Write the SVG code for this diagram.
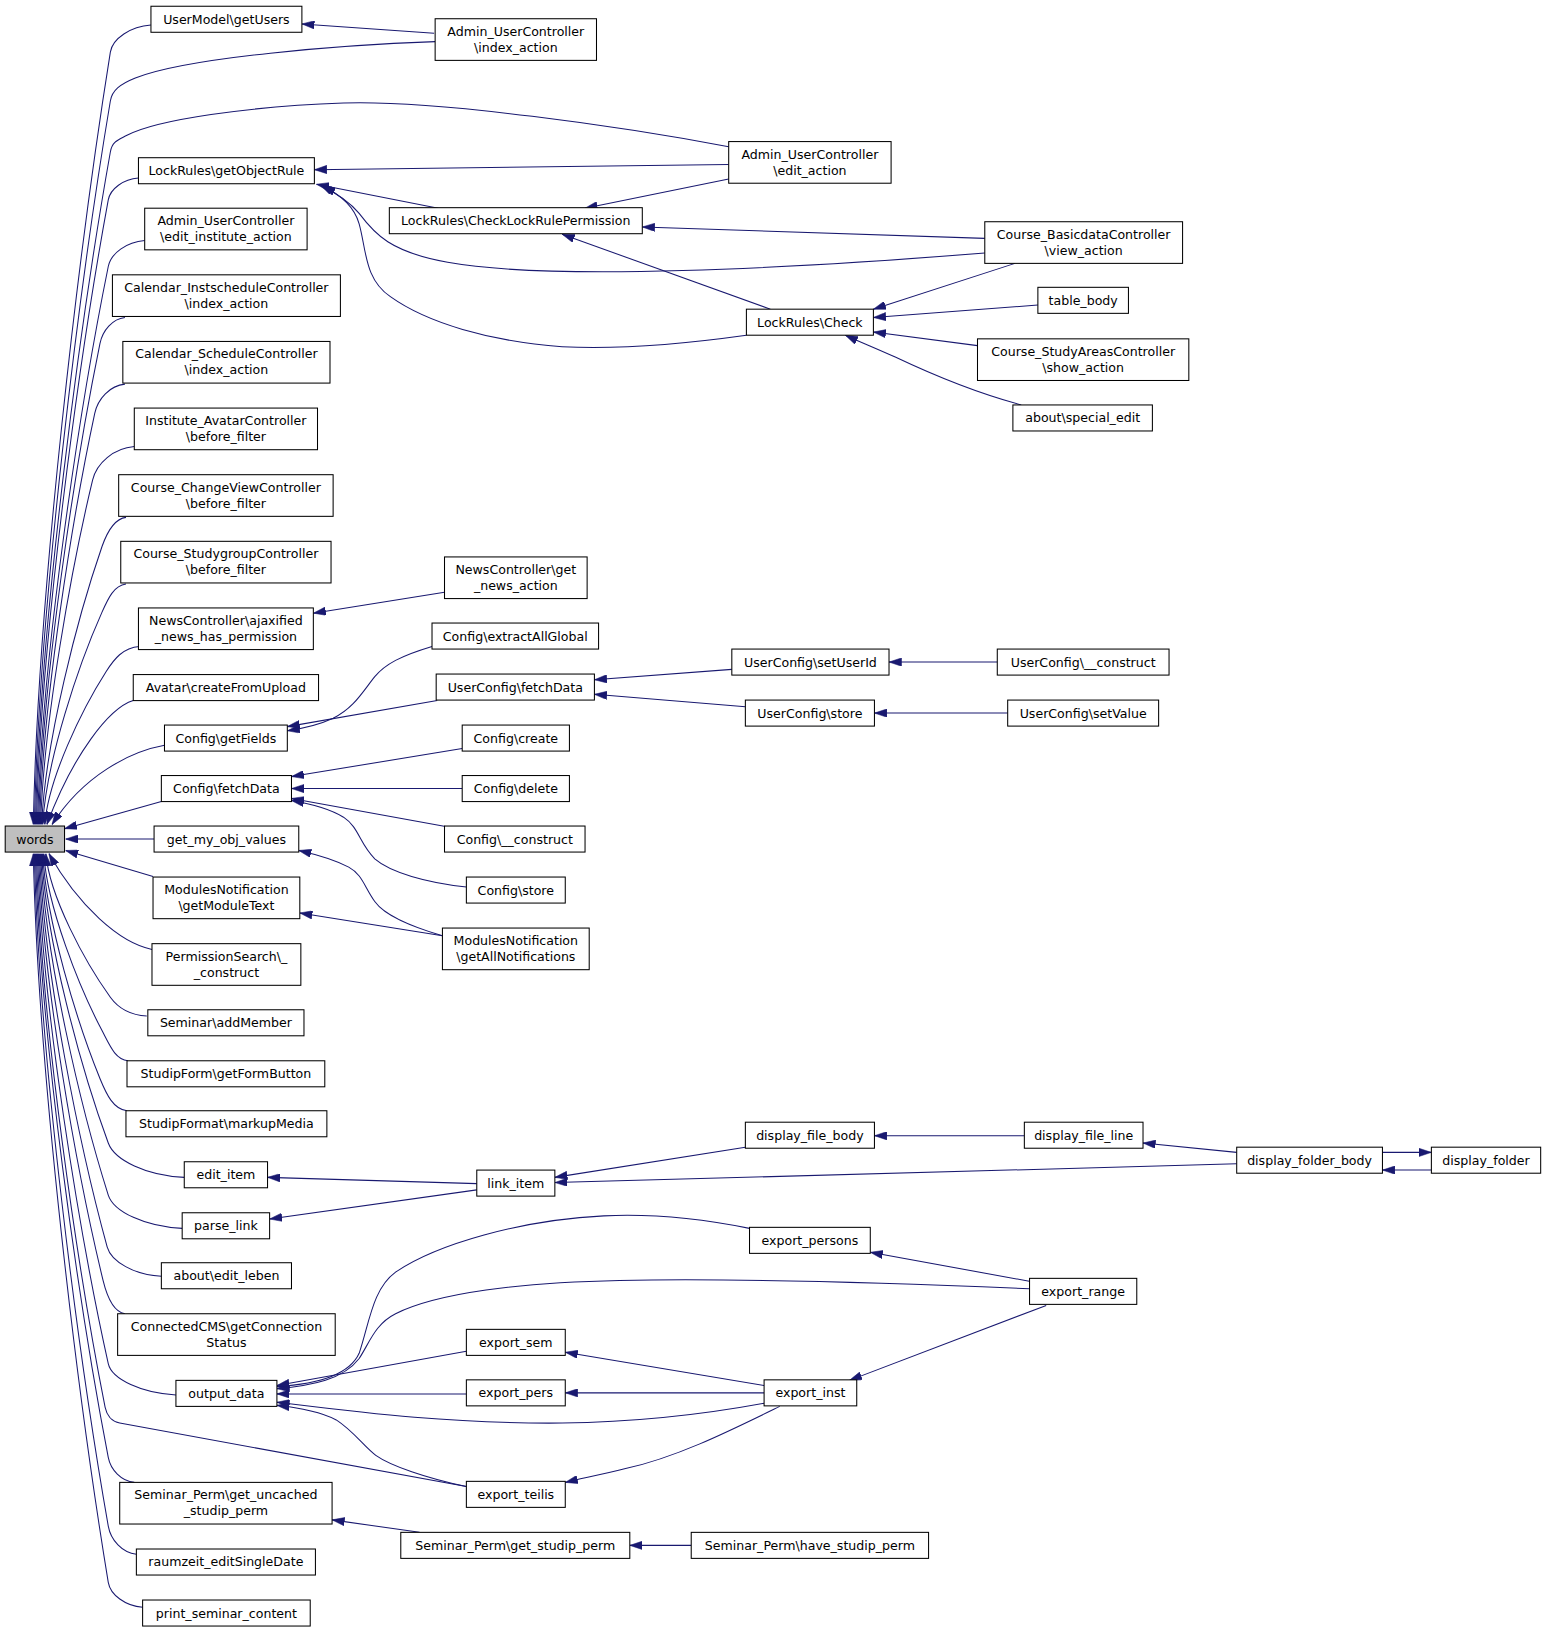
<svg xmlns="http://www.w3.org/2000/svg" width="1547" height="1632" viewBox="0 0 1547 1632">
<defs>
<style>
.n rect{fill:#fff;stroke:#000;stroke-width:1}
.n text{font-family:"DejaVu Sans","Liberation Sans",sans-serif;font-size:12.1px;text-anchor:middle;fill:#000}
#words rect{fill:#bfbfbf}
.e path{fill:none;stroke:#191970;stroke-width:1;marker-end:url(#arr)}
</style>
<marker id="arr" markerUnits="userSpaceOnUse" viewBox="0 0 12 8" markerWidth="12" markerHeight="8" refX="12" refY="4" orient="auto"><path d="M0,0 L12,4 L0,8 Z" fill="#191970" stroke="#191970" stroke-width="0.5"/></marker>
</defs>
<rect width="1547" height="1632" fill="#fff"/>
<g transform="scale(1.041)">
<g id="edges" class="e">
<path d="M145,24 C125.5,25.3 108.1,37 106,50 C76.3,235.5 36.4,569.4 32,792"/>
<path d="M418,40 C330,43 180,55 130,75 C115,81 107.7,87 106,97 C76.8,270.8 37.4,583.5 33,792"/>
<path d="M700,141 C600,122 420,96 330,99 C240,102 150,115 122,130 C112.7,135 107.8,136 106,146 C77.3,307.5 38.3,598.2 34,792"/>
<path d="M133,171 C118.5,172 105.9,181.5 104,192 C76.4,342 39.1,612 35,792"/>
<path d="M139,231 C121.5,232.3 106.5,243.5 104,256 C76.8,390 40.1,631.2 36,792"/>
<path d="M120,305 C108,306.3 98.6,317.5 96,330 C72.4,445.5 40.5,653.4 37,792"/>
<path d="M120,369 C105.5,370.4 94,383 91,397 C69.8,495.8 41.2,673.5 38,792"/>
<path d="M129,429 C109,430.6 92.9,445 89,461 C69,543.8 42,692.7 39,792"/>
<path d="M121,497 C109.5,498.4 102.9,511 98,525 C74.8,591.8 43.5,711.9 40,792"/>
<path d="M121,561 C109.5,562.4 104,574.5 98,588 C75.2,639 44.4,730.8 41,792"/>
<path d="M134,621 C118,622.2 109.7,633 102,645 C78.4,681.8 46.5,747.9 43,792"/>
<path d="M128,673 C105,680 70,725 45,792"/>
<path d="M158,716 C125,722 80,745 50,792"/>
<path d="M155,770 L62,796"/>
<path d="M148,806 L63,806"/>
<path d="M147,842 L63,817"/>
<path d="M146,912 C115,906 75,870 47,820"/>
<path d="M141,976 C123.5,975.1 112.5,967 106,958 C81.2,923.5 47.7,861.4 44,820"/>
<path d="M123,1019 C110.5,1017.6 105.6,1004.5 98,990 C75.6,947.5 45.4,871 42,820"/>
<path d="M122,1067 C109,1065.5 102.3,1051.5 96,1036 C74,982 44.3,884.8 41,820"/>
<path d="M177,1131 C140.5,1129.4 110.1,1114.5 104,1098 C78.4,1028.5 43.8,903.4 40,820"/>
<path d="M175,1180 C139.5,1178.4 109.1,1164 104,1148 C78,1066 42.9,918.4 39,820"/>
<path d="M155,1226 C129,1224.6 106.9,1212 103,1198 C77,1103.5 41.9,933.4 38,820"/>
<path d="M120,1262 C109.5,1260.4 102.9,1246 99,1230 C74.2,1127.5 40.7,943 37,820"/>
<path d="M169,1340 C136.5,1338.5 107.3,1325 104,1310 C76.8,1187.5 40.1,967 36,820"/>
<path d="M448,1428 L115,1367 C107,1365.5 102.4,1359 101,1352 C74.7,1219 39,979.6 35,820"/>
<path d="M129,1424 C116.5,1422.8 106.3,1412 104,1400 C76,1255 38.2,994 34,820"/>
<path d="M131,1493 C117.5,1491.7 106.4,1479.5 104,1466 C75.6,1304.5 37.3,1013.8 33,820"/>
<path d="M137,1544 C120.5,1542.8 106,1532 104,1520 C75.1,1345 36.3,1030 32,820"/>
<path d="M417,32 L290,23"/>
<path d="M700,158 L302,163"/>
<path d="M421,200 L304,177"/>
<path d="M946,243 C760,258 530,270 430,252 C375,242 360,225 345,205 C335,193 322,185 308,178"/>
<path d="M717,322 C660,330 600,336 540,333 C470,328 410,310 375,285 C350,268 352,240 345,215 C340,198 325,186 310,179"/>
<path d="M700,172 L562,200"/>
<path d="M946,229 L617,218"/>
<path d="M740,297 L540,225"/>
<path d="M975,253 L839,297"/>
<path d="M997,293 L839,305"/>
<path d="M939,332 L839,319"/>
<path d="M981,389 C940,378 900,362 860,343 C840,334 825,328 812,322"/>
<path d="M427,569 L301,589"/>
<path d="M415,621 C385,630 370,638 360,650 C348,665 340,680 320,690 C305,697 290,700 276,702"/>
<path d="M420,673 L276,698"/>
<path d="M703,643 L571,653"/>
<path d="M716,679 L571,667"/>
<path d="M958,636 L854,636"/>
<path d="M968,685 L840,685"/>
<path d="M444,719 L280,746"/>
<path d="M444,757.5 L280,757.5"/>
<path d="M428,794 L280,767"/>
<path d="M448,852 C410,848 375,838 360,825 C345,810 345,795 330,785 C315,776 298,772 280,769"/>
<path d="M425,899 C395,890 370,880 360,866 C350,852 348,840 335,833 C318,824 300,820 287,817"/>
<path d="M425,899 L288,877"/>
<path d="M458,1137 L257,1131"/>
<path d="M458,1143 L259,1171"/>
<path d="M716,1102 L533,1131"/>
<path d="M1188,1118 L533,1136"/>
<path d="M984,1091 L840,1091"/>
<path d="M1188,1107 L1098,1098"/>
<path d="M1328,1107 L1375,1107"/>
<path d="M1375,1124 L1328,1124"/>
<path d="M990,1231 L836,1203"/>
<path d="M720,1180 C670,1170 620,1166 580,1168 C500,1172 420,1195 380,1222 C358,1238 355,1270 345,1300 C335,1322 300,1330 266,1332"/>
<path d="M989,1238 C850,1232 700,1228 595,1230 C500,1232 420,1242 380,1262 C360,1272 355,1290 345,1305 C330,1325 300,1331 266,1334"/>
<path d="M448,1298 L266,1331"/>
<path d="M448,1339 L266,1339"/>
<path d="M734,1348 C680,1358 620,1366 540,1367 C430,1368 340,1356 266,1347"/>
<path d="M448,1428 C410,1420 375,1408 361,1398 C350,1390 340,1375 323,1364 C305,1355 285,1352 266,1350"/>
<path d="M734,1331 L543,1299"/>
<path d="M734,1338 L543,1338"/>
<path d="M1005,1254 L816,1326"/>
<path d="M749,1351 C700,1375 650,1400 600,1411 C580,1416 560,1420 543,1424"/>
<path d="M403,1472 L319,1460"/>
<path d="M664,1484.5 L605,1484.5"/>
</g>
<g id="words" class="n"><rect x="5" y="793.5" width="57" height="25"/><text x="33.5" y="810.3">words</text></g>
<g id="n2" class="n"><rect x="145" y="6" width="145" height="25"/><text x="217.5" y="22.8">UserModel\getUsers</text></g>
<g id="n3" class="n"><rect x="418" y="18" width="155" height="40"/><text x="495.5" y="34.3">Admin_UserController</text><text x="495.5" y="49.7">\index_action</text></g>
<g id="n4" class="n"><rect x="700" y="136" width="156" height="40"/><text x="778" y="152.3">Admin_UserController</text><text x="778" y="167.7">\edit_action</text></g>
<g id="n5" class="n"><rect x="133" y="151.5" width="169" height="25"/><text x="217.5" y="168.3">LockRules\getObjectRule</text></g>
<g id="n6" class="n"><rect x="374" y="199.5" width="243" height="25"/><text x="495.5" y="216.3">LockRules\CheckLockRulePermission</text></g>
<g id="n7" class="n"><rect x="946" y="213" width="190" height="40"/><text x="1041" y="229.3">Course_BasicdataController</text><text x="1041" y="244.7">\view_action</text></g>
<g id="n8" class="n"><rect x="997" y="276" width="87" height="25"/><text x="1040.5" y="292.8">table_body</text></g>
<g id="n9" class="n"><rect x="717" y="297" width="122" height="25"/><text x="778" y="313.8">LockRules\Check</text></g>
<g id="n10" class="n"><rect x="939" y="325.5" width="203" height="40"/><text x="1040.5" y="341.8">Course_StudyAreasController</text><text x="1040.5" y="357.2">\show_action</text></g>
<g id="n11" class="n"><rect x="973" y="389" width="134" height="25"/><text x="1040" y="405.8">about\special_edit</text></g>
<g id="n12" class="n"><rect x="139" y="200" width="156" height="40"/><text x="217" y="216.3">Admin_UserController</text><text x="217" y="231.7">\edit_institute_action</text></g>
<g id="n13" class="n"><rect x="108" y="264" width="219" height="40"/><text x="217.5" y="280.3">Calendar_InstscheduleController</text><text x="217.5" y="295.7">\index_action</text></g>
<g id="n14" class="n"><rect x="118" y="328" width="199" height="40"/><text x="217.5" y="344.3">Calendar_ScheduleController</text><text x="217.5" y="359.7">\index_action</text></g>
<g id="n15" class="n"><rect x="129" y="392" width="176" height="40"/><text x="217" y="408.3">Institute_AvatarController</text><text x="217" y="423.7">\before_filter</text></g>
<g id="n16" class="n"><rect x="114" y="456" width="206" height="40"/><text x="217" y="472.3">Course_ChangeViewController</text><text x="217" y="487.7">\before_filter</text></g>
<g id="n17" class="n"><rect x="116" y="520" width="202" height="40"/><text x="217" y="536.3">Course_StudygroupController</text><text x="217" y="551.7">\before_filter</text></g>
<g id="n18" class="n"><rect x="133" y="584" width="168" height="40"/><text x="217" y="600.3">NewsController\ajaxified</text><text x="217" y="615.7">_news_has_permission</text></g>
<g id="n19" class="n"><rect x="427" y="535" width="137" height="40"/><text x="495.5" y="551.3">NewsController\get</text><text x="495.5" y="566.7">_news_action</text></g>
<g id="n20" class="n"><rect x="128" y="648" width="178" height="25"/><text x="217" y="664.8">Avatar\createFromUpload</text></g>
<g id="n21" class="n"><rect x="415" y="598.5" width="160" height="25"/><text x="495" y="615.3">Config\extractAllGlobal</text></g>
<g id="n22" class="n"><rect x="419" y="647.5" width="152" height="25"/><text x="495" y="664.3">UserConfig\fetchData</text></g>
<g id="n23" class="n"><rect x="703" y="623.5" width="151" height="25"/><text x="778.5" y="640.3">UserConfig\setUserId</text></g>
<g id="n24" class="n"><rect x="958" y="623.5" width="165" height="25"/><text x="1040.5" y="640.3">UserConfig\__construct</text></g>
<g id="n25" class="n"><rect x="716" y="672.5" width="124" height="25"/><text x="778" y="689.3">UserConfig\store</text></g>
<g id="n26" class="n"><rect x="968" y="672.5" width="145" height="25"/><text x="1040.5" y="689.3">UserConfig\setValue</text></g>
<g id="n27" class="n"><rect x="158" y="696.5" width="118" height="25"/><text x="217" y="713.3">Config\getFields</text></g>
<g id="n28" class="n"><rect x="155" y="745" width="125" height="25"/><text x="217.5" y="761.8">Config\fetchData</text></g>
<g id="n29" class="n"><rect x="444" y="696.5" width="103" height="25"/><text x="495.5" y="713.3">Config\create</text></g>
<g id="n30" class="n"><rect x="444" y="745" width="103" height="25"/><text x="495.5" y="761.8">Config\delete</text></g>
<g id="n31" class="n"><rect x="427" y="793.5" width="135" height="25"/><text x="494.5" y="810.3">Config\__construct</text></g>
<g id="n32" class="n"><rect x="448" y="842.5" width="95" height="25"/><text x="495.5" y="859.3">Config\store</text></g>
<g id="n33" class="n"><rect x="148" y="793.5" width="139" height="25"/><text x="217.5" y="810.3">get_my_obj_values</text></g>
<g id="n34" class="n"><rect x="147" y="842.5" width="141" height="40"/><text x="217.5" y="858.8">ModulesNotification</text><text x="217.5" y="874.2">\getModuleText</text></g>
<g id="n35" class="n"><rect x="425" y="891.5" width="141" height="40"/><text x="495.5" y="907.8">ModulesNotification</text><text x="495.5" y="923.2">\getAllNotifications</text></g>
<g id="n36" class="n"><rect x="146" y="906.5" width="143" height="40"/><text x="217.5" y="922.8">PermissionSearch\_</text><text x="217.5" y="938.2">_construct</text></g>
<g id="n37" class="n"><rect x="142" y="970" width="150" height="25"/><text x="217" y="986.8">Seminar\addMember</text></g>
<g id="n38" class="n"><rect x="122" y="1019" width="190" height="25"/><text x="217" y="1035.8">StudipForm\getFormButton</text></g>
<g id="n39" class="n"><rect x="121" y="1067" width="193" height="25"/><text x="217.5" y="1083.8">StudipFormat\markupMedia</text></g>
<g id="n40" class="n"><rect x="177" y="1116" width="80" height="25"/><text x="217" y="1132.8">edit_item</text></g>
<g id="n41" class="n"><rect x="458" y="1124" width="75" height="25"/><text x="495.5" y="1140.8">link_item</text></g>
<g id="n42" class="n"><rect x="716" y="1078" width="124" height="25"/><text x="778" y="1094.8">display_file_body</text></g>
<g id="n43" class="n"><rect x="984" y="1078" width="114" height="25"/><text x="1041" y="1094.8">display_file_line</text></g>
<g id="n44" class="n"><rect x="1188" y="1102" width="140" height="25"/><text x="1258" y="1118.8">display_folder_body</text></g>
<g id="n45" class="n"><rect x="1375" y="1102" width="105" height="25"/><text x="1427.5" y="1118.8">display_folder</text></g>
<g id="n46" class="n"><rect x="175" y="1165" width="84" height="25"/><text x="217" y="1181.8">parse_link</text></g>
<g id="n47" class="n"><rect x="155" y="1213" width="125" height="25"/><text x="217.5" y="1229.8">about\edit_leben</text></g>
<g id="n48" class="n"><rect x="113" y="1262" width="209" height="40"/><text x="217.5" y="1278.3">ConnectedCMS\getConnection</text><text x="217.5" y="1293.7">Status</text></g>
<g id="n49" class="n"><rect x="169" y="1326" width="97" height="25"/><text x="217.5" y="1342.8">output_data</text></g>
<g id="n50" class="n"><rect x="720" y="1179" width="116" height="25"/><text x="778" y="1195.8">export_persons</text></g>
<g id="n51" class="n"><rect x="989" y="1228" width="103" height="25"/><text x="1040.5" y="1244.8">export_range</text></g>
<g id="n52" class="n"><rect x="448" y="1277" width="95" height="25"/><text x="495.5" y="1293.8">export_sem</text></g>
<g id="n53" class="n"><rect x="448" y="1325.5" width="95" height="25"/><text x="495.5" y="1342.3">export_pers</text></g>
<g id="n54" class="n"><rect x="734" y="1325.5" width="89" height="25"/><text x="778.5" y="1342.3">export_inst</text></g>
<g id="n55" class="n"><rect x="448" y="1423" width="95" height="25"/><text x="495.5" y="1439.8">export_teilis</text></g>
<g id="n56" class="n"><rect x="115" y="1424" width="204" height="40"/><text x="217" y="1440.3">Seminar_Perm\get_uncached</text><text x="217" y="1455.7">_studip_perm</text></g>
<g id="n57" class="n"><rect x="385" y="1472" width="220" height="25"/><text x="495" y="1488.8">Seminar_Perm\get_studip_perm</text></g>
<g id="n58" class="n"><rect x="664" y="1472" width="228" height="25"/><text x="778" y="1488.8">Seminar_Perm\have_studip_perm</text></g>
<g id="n59" class="n"><rect x="131" y="1488" width="172" height="25"/><text x="217" y="1504.8">raumzeit_editSingleDate</text></g>
<g id="n60" class="n"><rect x="137" y="1537" width="161" height="25"/><text x="217.5" y="1553.8">print_seminar_content</text></g>
</g>
</svg>
